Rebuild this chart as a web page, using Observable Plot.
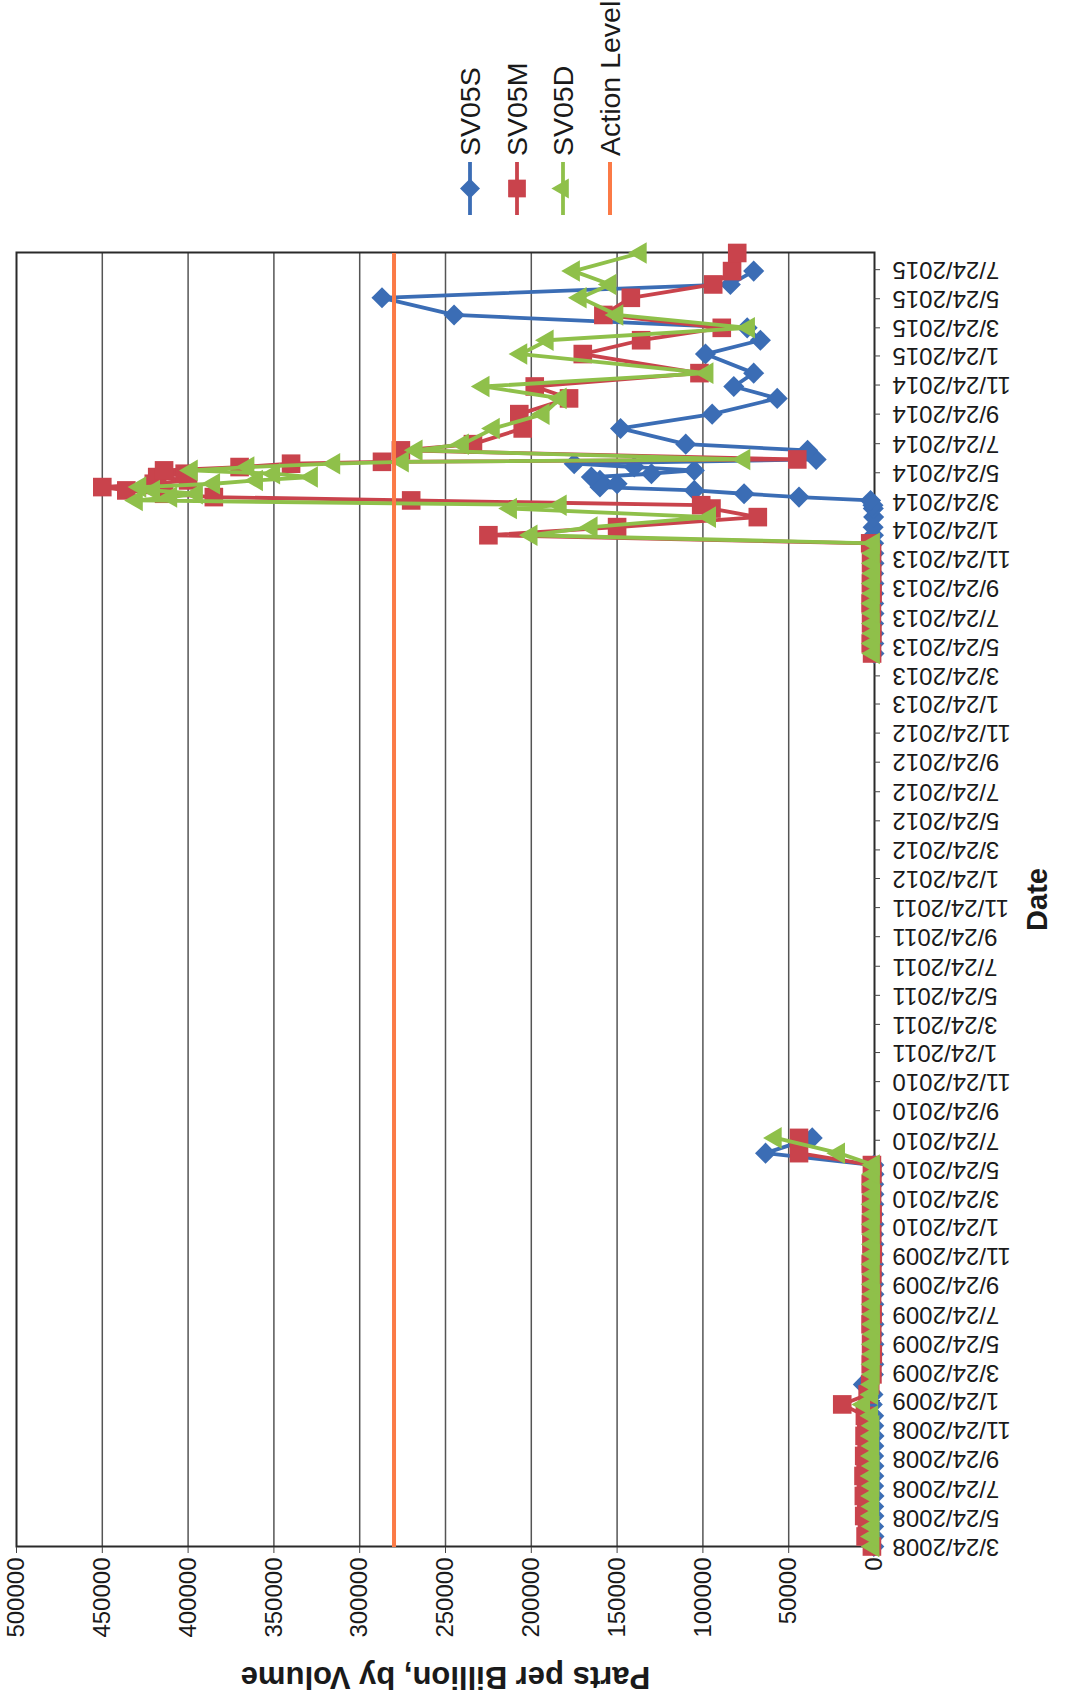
<!DOCTYPE html>
<html>
<head>
<meta charset="utf-8">
<script src="https://cdn.jsdelivr.net/npm/d3@7"></script>
<script src="https://cdn.jsdelivr.net/npm/@observablehq/plot@0.6"></script>
<style>
html, body { margin: 0; padding: 0; background: #fff; overflow: hidden; }
#page { width: 1065px; height: 1703px; position: relative; overflow: hidden; background: #fff; }
#land { position: absolute; left: 0; top: 0; width: 1703px; height: 1065px;
  transform-origin: 0 0; transform: translate(0px, 1703px) rotate(-90deg);
  font-family: "Liberation Sans", Arial, sans-serif; }
#chart svg { display: block; }
#legend { position: absolute; left: 0; top: 0; }
</style>
</head>
<body>
<div id="page"><div id="land"><div id="chart"></div><svg id="legend" width="1703" height="1065"></svg></div></div>
<script>
// ---------------- data ----------------
const dates = [
  // 2008
  "2008-03-24","2008-04-14","2008-05-05","2008-05-27","2008-06-16","2008-07-08","2008-07-29",
  "2008-08-19","2008-09-09","2008-09-30","2008-10-21","2008-11-11","2008-12-02","2008-12-23",
  // 2009
  "2009-01-16","2009-02-06","2009-02-27","2009-03-20","2009-04-10","2009-05-01","2009-05-22",
  "2009-06-12","2009-07-03","2009-07-24","2009-08-14","2009-09-04","2009-09-25","2009-10-16",
  "2009-11-06","2009-11-27","2009-12-18",
  // 2010
  "2010-01-08","2010-01-29","2010-02-19","2010-03-12","2010-04-02","2010-04-23","2010-05-14",
  "2010-06-02","2010-06-27","2010-07-29",
  // 2013
  "2013-05-10","2013-05-31","2013-06-21","2013-07-12","2013-08-02","2013-08-23","2013-09-13",
  "2013-10-04","2013-10-25","2013-11-15","2013-12-06","2013-12-27",
  // 2014
  "2014-01-13","2014-01-30","2014-02-20","2014-03-10","2014-03-17","2014-03-27","2014-04-03",
  "2014-04-10","2014-04-17","2014-04-24","2014-05-01","2014-05-08","2014-05-15","2014-05-22",
  "2014-05-29","2014-06-05","2014-06-12","2014-06-16","2014-06-21","2014-07-10","2014-07-23",
  "2014-08-25","2014-09-24","2014-10-27","2014-11-21","2014-12-19",
  // 2015
  "2015-01-28","2015-02-26","2015-03-24","2015-04-20","2015-05-26","2015-06-23","2015-07-21","2015-08-28"
];

const sv05s = [
  400, 300, 500, 350, 450, 300, 500, 400, 350, 500, 400, 300, 450, 500,
  1300, 900, 6500, 600, 400, 500, 350, 450, 300, 500, 400, 350, 450, 300, 500, 400, 350,
  450, 300, 500, 400, 350, 450, 300, 400, 63500, 36300,
  300, 400, 350, 500, 300, 450, 400, 350, 500, 300, 400, 500,
  600, 800, 500, 700, 900, 2300, 44000, 76000, 105000, 160000, 150000, 160000, 165000, 130000,
  105000, 140000, 175000, null, 34000, 39000, 110000, 148000, 94600, 56700, 82000, 70400,
  98500, 66500, 74200, 245000, 287000, 84000, 70400, null
];

const sv05m = [
  1500, 5200, 4400, 6000, 4800, 6200, 5000, 6400, 5200, 6000, 4600, 5800, 4800, 5600,
  18800, 4000, 2500, 1200, 2200, 1000, 2000, 1300, 2300, 1100, 2100, 1400, 2000, 1200, 2200, 1000, 1800,
  1300, 2100, 1100, 2000, 1400, 2200, 1200, 1500, 44000, 44000,
  1400, 2200, 1200, 2000, 1500, 2300, 1100, 2100, 1300, 2000, 1400, 2500,
  225000, 150000, 68000, 95000, 101000, 270000, 385000, 414000, 436000, 450000, 420000, 400000, 418000, 402000,
  414000, 370000, 340000, 287000, 45000, 276000, 234000, 205000, 207000, 178000, 198000, 102000,
  170000, 136000, 89000, 158000, 142000, 94000, 83000, 80000
];

const sv05d = [
  800, 1200, 700, 1300, 900, 1100, 800, 1400, 700, 1200, 900, 1300, 800, 1500,
  6200, 1500, 1200, 600, 900, 500, 800, 400, 700, 500, 900, 400, 800, 600, 900, 500, 700,
  600, 800, 500, 900, 400, 700, 600, 500, 20800, 57700,
  500, 800, 400, 700, 600, 900, 500, 800, 400, 700, 600, 500,
  200000, 165000, 96000, 212000, 183000, 430000, 410000, 395000, 420000, 428000, 385000, 360000, 328000, 350000,
  398000, 365000, 315000, 275000, 76000, 267000, 240000, 222000, 193000, 183000, 228000, 97500,
  206000, 190600, 73300, 150000, 171400, 154000, 175300, 136400
];

const actionLevel = 280000;

const seriesNames = ["SV05S", "SV05M", "SV05D", "Action Level"];
const seriesColors = ["#3b6db5", "#c9434c", "#8fc04a", "#fb7a46"];

const tickLabels = [
  "3/24/2008","5/24/2008","7/24/2008","9/24/2008","11/24/2008",
  "1/24/2009","3/24/2009","5/24/2009","7/24/2009","9/24/2009","11/24/2009",
  "1/24/2010","3/24/2010","5/24/2010","7/24/2010","9/24/2010","11/24/2010",
  "1/24/2011","3/24/2011","5/24/2011","7/24/2011","9/24/2011","11/24/2011",
  "1/24/2012","3/24/2012","5/24/2012","7/24/2012","9/24/2012","11/24/2012",
  "1/24/2013","3/24/2013","5/24/2013","7/24/2013","9/24/2013","11/24/2013",
  "1/24/2014","3/24/2014","5/24/2014","7/24/2014","9/24/2014","11/24/2014",
  "1/24/2015","3/24/2015","5/24/2015","7/24/2015"
];
const valueTicks = [0, 50000, 100000, 150000, 200000, 250000, 300000, 350000, 400000, 450000, 500000];
const dateDomain = ["2008-03-24", "2015-08-29"];

// ---------------- build ----------------
const parseTick = d3.utcParse("%m/%d/%Y");
const tickDates = tickLabels.map(parseTick);
const fmtTick = d3.utcFormat("%-m/%-d/%Y");

function rows(vals) {
  return dates.map((d, i) => ({date: new Date(d), value: vals[i], seg: d < "2012" ? "A" : "B"}))
              .filter(r => r.value != null);
}
const dataS = rows(sv05s), dataM = rows(sv05m), dataD = rows(sv05d);

const FONT = "Liberation Sans, Arial, sans-serif";
const lw = 3.8;

const chart = Plot.plot({
  width: 1703,
  height: 1065,
  marginLeft: 156,
  marginRight: 253,
  marginTop: 16,
  marginBottom: 191,
  style: {fontFamily: FONT, fontSize: "24px", color: "#1a1a1a", background: "white", overflow: "visible"},
  x: {type: "utc", domain: dateDomain.map(d => new Date(d))},
  y: {domain: [0, 500000]},
  marks: [
    Plot.gridY(valueTicks.slice(1, -1), {stroke: "#555", strokeOpacity: 1, strokeWidth: 1.5}),
    Plot.frame({stroke: "#2a2a2a", strokeWidth: 2}),
    Plot.axisY({ticks: valueTicks, tickFormat: d3.format("d"), tickSize: 6, tickPadding: 5,
                fontSize: 24, label: null, stroke: "#444"}),
    Plot.axisX({ticks: tickDates, tickFormat: fmtTick, tickRotate: -90, tickSize: 6, tickPadding: 12,
                fontSize: 24, label: null, stroke: "#444"}),
    Plot.line(dataS, {x: "date", y: "value", z: "seg", stroke: seriesColors[0], strokeWidth: lw, strokeLinejoin: "round"}),
    Plot.dot(dataS, {x: "date", y: "value", symbol: "diamond2", r: 9.5, fill: seriesColors[0]}),
    Plot.line(dataM, {x: "date", y: "value", z: "seg", stroke: seriesColors[1], strokeWidth: lw, strokeLinejoin: "round"}),
    Plot.dot(dataM, {x: "date", y: "value", symbol: "square", r: 10.5, fill: seriesColors[1]}),
    Plot.line(dataD, {x: "date", y: "value", z: "seg", stroke: seriesColors[2], strokeWidth: lw, strokeLinejoin: "round"}),
    Plot.dot(dataD, {x: "date", y: "value", symbol: "triangle", r: 8, fill: seriesColors[2]}),
    Plot.ruleY([actionLevel], {stroke: seriesColors[3], strokeWidth: 4}),
    Plot.text(["Parts per Billion, by Volume"], {frameAnchor: "left", dx: -130, rotate: -90, textAnchor: "middle",
                fontSize: 31, fontWeight: "bold", fill: "#1a1a1a"}),
    Plot.text(["Date"], {frameAnchor: "bottom", dy: 172, textAnchor: "middle", fontSize: 29, fontWeight: "bold", fill: "#1a1a1a"})
  ]
});
document.getElementById("chart").appendChild(chart);

// ---------------- legend ----------------
const lg = d3.select("#legend");
const rowY = [470, 517, 563, 610];
const symbols = [d3.symbolDiamond2, d3.symbolSquare, d3.symbolTriangle, null];
const symSizes = [Math.PI * 81, Math.PI * 100, Math.PI * 56, 0];
seriesNames.forEach((name, i) => {
  const g = lg.append("g").attr("transform", `translate(0,${rowY[i]})`);
  g.append("line").attr("x1", 1488).attr("x2", 1541).attr("y1", 0).attr("y2", 0)
    .attr("stroke", seriesColors[i]).attr("stroke-width", i === 3 ? 4 : lw);
  if (symbols[i]) {
    g.append("path").attr("d", d3.symbol(symbols[i], symSizes[i])())
      .attr("transform", "translate(1514.5,0)").attr("fill", seriesColors[i]);
  }
  g.append("text").attr("x", 1547).attr("y", 10).attr("font-size", 28.5)
    .attr("font-family", FONT).attr("fill", "#1a1a1a").text(name);
});
</script>
</body>
</html>
